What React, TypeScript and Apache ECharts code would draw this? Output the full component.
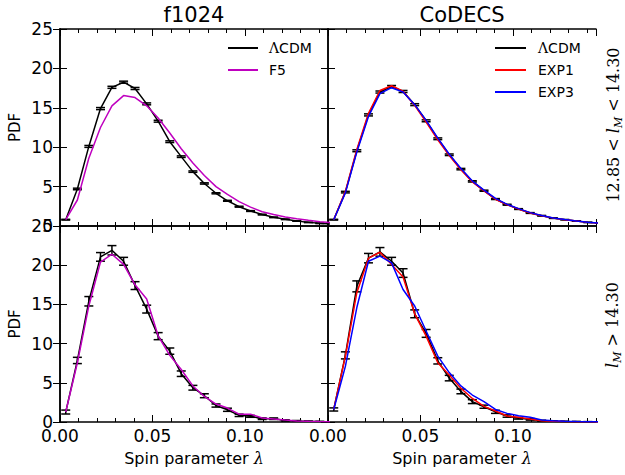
import React, { useEffect, useRef } from "react";
import * as echarts from "echarts";

// ---------- data ----------
const X_BINS = [
  0.0031, 0.0094, 0.0156, 0.0219, 0.0281, 0.0344, 0.0406, 0.0469, 0.0531, 0.0594, 0.0656, 0.0719,
  0.0781, 0.0844, 0.0906, 0.0969, 0.1031, 0.1094, 0.1156, 0.1219, 0.1281, 0.1344, 0.1406, 0.1469,
];

// top row: 12.85 < l_M < 14.30
const TL_LCDM = [0.8, 4.7, 10.1, 14.9, 17.6, 18.25, 17.45, 15.5, 13.3, 10.7, 8.8, 6.9, 5.4, 4.15, 3.2, 2.45, 1.9, 1.45, 1.1, 0.85, 0.63, 0.46, 0.34, 0.25];
const TL_LCDM_ERR = [0.05, 0.1, 0.12, 0.13, 0.13, 0.13, 0.13, 0.12, 0.12, 0.11, 0.1, 0.09, 0.08, 0.07, 0.06, 0.06, 0.05, 0.05, 0.04, 0.04, 0.03, 0.03, 0.03, 0.02];
const TL_F5 = [0.8, 3.3, 8.6, 12.5, 15.25, 16.55, 16.3, 15.25, 13.7, 11.8, 9.8, 8.0, 6.4, 5.0, 4.0, 3.1, 2.4, 1.8, 1.45, 1.15, 0.93, 0.72, 0.55, 0.42];

const TR_LCDM = [0.8, 4.3, 9.55, 14.1, 17.0, 17.7, 17.07, 15.4, 13.35, 11.07, 9.04, 7.22, 5.66, 4.48, 3.42, 2.7, 2.15, 1.65, 1.3, 1.0, 0.8, 0.63, 0.46, 0.36];
const TR_LCDM_ERR = [0.05, 0.1, 0.12, 0.13, 0.13, 0.13, 0.13, 0.12, 0.12, 0.11, 0.1, 0.09, 0.08, 0.07, 0.06, 0.06, 0.05, 0.05, 0.04, 0.04, 0.03, 0.03, 0.03, 0.02];
const TR_EXP1 = [0.8, 4.4, 9.7, 14.3, 17.2, 17.8, 17.1, 15.3, 13.2, 10.95, 8.95, 7.15, 5.6, 4.45, 3.4, 2.7, 2.15, 1.65, 1.3, 1.0, 0.8, 0.62, 0.46, 0.36];
const TR_EXP3 = [0.8, 4.2, 9.4, 13.9, 16.8, 17.55, 17.0, 15.4, 13.4, 11.15, 9.1, 7.3, 5.7, 4.55, 3.5, 2.75, 2.2, 1.7, 1.33, 1.02, 0.82, 0.64, 0.47, 0.37];

// bottom row: l_M > 14.30
const BL_LCDM = [1.27, 7.85, 15.4, 21.06, 21.9, 20.5, 17.4, 14.4, 10.95, 9.04, 6.16, 4.37, 3.35, 2.1, 1.56, 0.85, 0.72, 0.42, 0.42, 0.2, 0.13, 0.08, 0.05, 0.03];
const BL_LCDM_ERR = [0.25, 0.4, 0.6, 0.55, 0.6, 0.5, 0.5, 0.5, 0.45, 0.4, 0.35, 0.3, 0.25, 0.2, 0.2, 0.15, 0.12, 0.1, 0.1, 0.08, 0.06, 0.05, 0.04, 0.03];
const BL_F5 = [1.27, 7.56, 14.8, 20.4, 21.4, 20.1, 17.5, 15.7, 11.0, 8.5, 6.7, 4.6, 3.26, 2.29, 1.78, 1.0, 1.0, 0.5, 0.38, 0.25, 0.13, 0.08, 0.05, 0.03];

const BR_LCDM = [1.6, 8.5, 17.3, 20.9, 21.7, 20.5, 19.0, 13.8, 11.3, 7.8, 5.6, 3.9, 2.6, 1.95, 1.3, 0.76, 0.47, 0.34, 0.15, 0.1, 0.06, 0.04, 0.02, 0.01];
const BR_LCDM_ERR = [0.2, 0.45, 0.7, 0.6, 0.55, 0.5, 0.55, 0.5, 0.5, 0.4, 0.35, 0.3, 0.25, 0.2, 0.2, 0.15, 0.1, 0.1, 0.08, 0.06, 0.05, 0.04, 0.03, 0.02];
const BR_EXP1 = [1.6, 8.4, 16.5, 20.9, 21.65, 20.1, 18.5, 13.8, 10.95, 7.55, 6.0, 4.3, 3.0, 2.0, 1.4, 0.76, 0.6, 0.38, 0.17, 0.08, 0.05, 0.03, 0.02, 0.01];
const BR_EXP3 = [1.6, 7.1, 14.6, 20.5, 21.15, 20.3, 16.9, 14.8, 11.6, 8.4, 6.3, 4.6, 3.44, 2.6, 1.6, 1.1, 0.8, 0.6, 0.25, 0.17, 0.1, 0.06, 0.04, 0.02];

const COLUMN_TITLES = ["f1024", "CoDECS"];
const LEGEND_LEFT = ["ΛCDM", "F5"];
const LEGEND_RIGHT = ["ΛCDM", "EXP1", "EXP3"];
const X_MIN = 0;
const X_MAX = 0.145;
const X_MAJOR = 0.05;
const X_MINOR = 0.01;
const Y_MIN = 0;
const Y_MAX = 25;
const Y_MAJOR = 5;
const X_NAME = "Spin parameter {l|λ}";
const Y_NAME = "PDF";

// ---------- styling ----------
const FONT = "DejaVu Sans";
const SERIF = "DejaVu Serif";
const C_BLACK = "#000000";
const C_MAGENTA = "#bf00bf";
const C_RED = "#ff0000";
const C_BLUE = "#0000ff";

const GRIDS = [
  { left: 60, top: 29, width: 268, height: 197 },
  { left: 328, top: 29, width: 268, height: 197 },
  { left: 60, top: 226, width: 268, height: 196 },
  { left: 328, top: 226, width: 268, height: 196 },
];

type Curve = { name: string; ys: number[]; color: string };
type Panel = { ref: number[]; err: number[]; curves: Curve[] };

const PANELS: Panel[] = [
  { ref: TL_LCDM, err: TL_LCDM_ERR, curves: [{ name: "F5", ys: TL_F5, color: C_MAGENTA }] },
  {
    ref: TR_LCDM,
    err: TR_LCDM_ERR,
    curves: [
      { name: "EXP1", ys: TR_EXP1, color: C_RED },
      { name: "EXP3", ys: TR_EXP3, color: C_BLUE },
    ],
  },
  { ref: BL_LCDM, err: BL_LCDM_ERR, curves: [{ name: "F5", ys: BL_F5, color: C_MAGENTA }] },
  {
    ref: BR_LCDM,
    err: BR_LCDM_ERR,
    curves: [
      { name: "EXP1", ys: BR_EXP1, color: C_RED },
      { name: "EXP3", ys: BR_EXP3, color: C_BLUE },
    ],
  },
];

const pts = (ys: number[]) => X_BINS.map((x, i) => [x, ys[i]]);

const errorBarRender = (_params: any, api: any) => {
  const x = api.value(0);
  const y = api.value(1);
  const e = api.value(2);
  const p1 = api.coord([x, y + e]);
  const p2 = api.coord([x, y - e]);
  const hw = 4.5;
  const style = { stroke: C_BLACK, lineWidth: 1.5, fill: null };
  return {
    type: "group",
    children: [
      { type: "line", shape: { x1: p1[0], y1: p1[1], x2: p2[0], y2: p2[1] }, style },
      { type: "line", shape: { x1: p1[0] - hw, y1: p1[1], x2: p1[0] + hw, y2: p1[1] }, style },
      { type: "line", shape: { x1: p2[0] - hw, y1: p2[1], x2: p2[0] + hw, y2: p2[1] }, style },
    ],
  };
};

const isMajor = (v: number) => Math.abs(v / X_MAJOR - Math.round(v / X_MAJOR)) < 1e-6;

function buildOption() {
  const xAxis: any[] = [];
  const yAxis: any[] = [];
  const series: any[] = [];
  const frame = { show: true, lineStyle: { color: C_BLACK, width: 1.5 } };

  GRIDS.forEach((_, g) => {
    const bottomRow = g >= 2;
    const leftCol = g % 2 === 0;
    const base = { type: "value", gridIndex: g, min: X_MIN, max: X_MAX, splitLine: { show: false } };
    // bottom major
    xAxis.push({
      ...base,
      position: "bottom",
      interval: X_MAJOR,
      axisLine: frame,
      axisTick: { show: true, inside: true, length: 7, lineStyle: { color: C_BLACK, width: 1 } },
      axisLabel: {
        show: bottomRow,
        margin: 5,
        fontSize: 17,
        fontFamily: FONT,
        color: C_BLACK,
        showMaxLabel: false,
        formatter: (v: number) => (isMajor(v) ? v.toFixed(2) : ""),
      },
      name: bottomRow ? X_NAME : "",
      nameLocation: "middle",
      nameGap: 28,
      nameTextStyle: {
        fontSize: 16,
        fontFamily: FONT,
        color: C_BLACK,
        rich: { l: { fontSize: 16, fontFamily: SERIF, fontStyle: "italic", color: C_BLACK } },
      },
    });
    // bottom minor
    xAxis.push({
      ...base,
      position: "bottom",
      interval: X_MINOR,
      axisLine: { show: false },
      axisTick: { show: true, inside: true, length: 4, lineStyle: { color: C_BLACK, width: 1 } },
      axisLabel: { show: false },
    });
    // top major
    xAxis.push({
      ...base,
      position: "top",
      interval: X_MAJOR,
      axisLine: frame,
      axisTick: { show: true, inside: true, length: 7, lineStyle: { color: C_BLACK, width: 1 } },
      axisLabel: { show: false },
    });
    // top minor
    xAxis.push({
      ...base,
      position: "top",
      interval: X_MINOR,
      axisLine: { show: false },
      axisTick: { show: true, inside: true, length: 4, lineStyle: { color: C_BLACK, width: 1 } },
      axisLabel: { show: false },
    });

    const ybase = {
      type: "value",
      gridIndex: g,
      min: Y_MIN,
      max: Y_MAX,
      interval: Y_MAJOR,
      splitLine: { show: false },
      axisLine: frame,
      axisTick: { show: true, inside: true, length: 7, lineStyle: { color: C_BLACK, width: 1 } },
    };
    yAxis.push({
      ...ybase,
      position: "left",
      axisLabel: { show: leftCol, margin: 7, fontSize: 17, fontFamily: FONT, color: C_BLACK },
      name: leftCol ? Y_NAME : "",
      nameLocation: "middle",
      nameGap: 38,
      nameTextStyle: { fontSize: 15, fontFamily: FONT, color: C_BLACK },
    });
    yAxis.push({ ...ybase, position: "right", axisLabel: { show: false } });

    const p = PANELS[g];
    const xi = g * 4;
    const yi = g * 2;
    series.push({
      type: "line",
      name: "ΛCDM",
      xAxisIndex: xi,
      yAxisIndex: yi,
      data: pts(p.ref),
      symbol: "none",
      showSymbol: false,
      lineStyle: { color: C_BLACK, width: 1.5 },
      itemStyle: { color: C_BLACK },
      clip: true,
      z: 2,
      silent: true,
    });
    series.push({
      type: "custom",
      name: "ΛCDM errors",
      xAxisIndex: xi,
      yAxisIndex: yi,
      renderItem: errorBarRender,
      data: X_BINS.map((x, i) => [x, p.ref[i], p.err[i]]),
      encode: { x: 0, y: 1 },
      clip: true,
      z: 3,
      silent: true,
    });
    p.curves.forEach((c, k) => {
      series.push({
        type: "line",
        name: c.name,
        xAxisIndex: xi,
        yAxisIndex: yi,
        data: pts(c.ys),
        symbol: "none",
        showSymbol: false,
        lineStyle: { color: c.color, width: 1.5 },
        itemStyle: { color: c.color },
        clip: true,
        z: 4 + k,
        silent: true,
      });
    });
  });

  const legendColors: Record<string, string> = {
    "ΛCDM": C_BLACK,
    F5: C_MAGENTA,
    EXP1: C_RED,
    EXP3: C_BLUE,
  };
  const legendText = (name: string) => (name.startsWith("Λ") ? "{s|Λ}" + name.slice(1) : name);
  const legendGroup = (names: string[], x0: number, x1: number, tx: number, y0: number) =>
    names.flatMap((n, i) => [
      {
        type: "line",
        shape: { x1: x0, y1: y0 + i * 22, x2: x1, y2: y0 + i * 22 },
        style: { stroke: legendColors[n], lineWidth: 2 },
        z: 10,
      },
      {
        type: "text",
        x: tx,
        y: y0 + i * 22,
        z: 10,
        style: {
          text: legendText(n),
          fontSize: 14,
          fontFamily: FONT,
          fill: C_BLACK,
          align: "left",
          verticalAlign: "middle",
          textAlign: "left",
          textVerticalAlign: "middle",
          rich: { s: { fontSize: 14, fontFamily: SERIF, fill: C_BLACK } },
        },
      },
    ]);

  const rowLabel = (parts: string, x: number, y: number) => ({
    type: "text",
    x,
    y,
    rotation: Math.PI / 2,
    style: {
      text: parts,
      fontSize: 16,
      fontFamily: SERIF,
      fill: C_BLACK,
      lineHeight: 22,
      align: "center",
      verticalAlign: "middle",
      textAlign: "center",
      textVerticalAlign: "middle",
      rich: {
        n: { fontSize: 16, fontFamily: SERIF, lineHeight: 22, fill: C_BLACK },
        i: { fontSize: 16, fontFamily: SERIF, fontStyle: "italic", lineHeight: 22, fill: C_BLACK },
        s: { fontSize: 11, fontFamily: SERIF, fontStyle: "italic", lineHeight: 12, verticalAlign: "bottom", fill: C_BLACK },
      },
    },
  });

  const graphic: any[] = [
    {
      type: "text",
      x: 194,
      y: 15,
      style: {
        text: COLUMN_TITLES[0],
        fontSize: 21,
        fontFamily: FONT,
        fill: C_BLACK,
        align: "center",
        verticalAlign: "middle",
        textAlign: "center",
        textVerticalAlign: "middle",
      },
    },
    {
      type: "text",
      x: 462,
      y: 15,
      style: {
        text: COLUMN_TITLES[1],
        fontSize: 21,
        fontFamily: FONT,
        fill: C_BLACK,
        align: "center",
        verticalAlign: "middle",
        textAlign: "center",
        textVerticalAlign: "middle",
      },
    },
    ...legendGroup(LEGEND_LEFT, 228, 258, 269, 48),
    ...legendGroup(LEGEND_RIGHT, 495, 526, 538, 48),
    rowLabel("{n|12.85 < }{i|l}{s|M}{n| < 14.30}", 613, 125),
    rowLabel("{i|l}{s|M}{n| > 14.30}", 612, 325),
  ];

  return {
    animation: false,
    backgroundColor: "#ffffff",
    textStyle: { fontFamily: FONT },
    grid: GRIDS.map((g) => ({ ...g, containLabel: false })),
    xAxis,
    yAxis,
    series,
    graphic,
  };
}

export default function App() {
  const ref = useRef<HTMLDivElement>(null);
  useEffect(() => {
    if (!ref.current) return;
    const chart = echarts.init(ref.current, undefined, { renderer: "svg" });
    chart.setOption(buildOption() as any);
    return () => chart.dispose();
  }, []);
  return (
    <div
      ref={ref}
      style={{ position: "absolute", left: 0, top: 0, width: 625, height: 475, background: "#fff" }}
    />
  );
}
